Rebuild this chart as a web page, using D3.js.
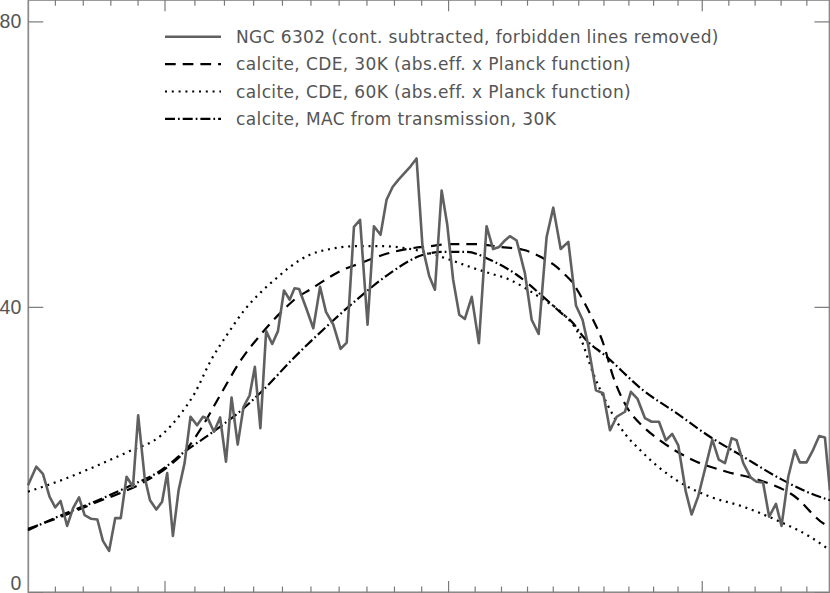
<!DOCTYPE html>
<html>
<head>
<meta charset="utf-8">
<title>NGC 6302 calcite</title>
<script src="https://cdn.jsdelivr.net/npm/d3@7"></script>
<style>
    html, body { margin: 0; padding: 0; background: #ffffff; }
    svg { display: block; }
    .frame { fill: none; stroke: #8a8a8a; stroke-width: 1.7; }
    .tick line { stroke: #7a7a7a; stroke-width: 1.2; }
    .tick text { font-family: 'Liberation Sans', sans-serif; font-size: 19.5px; fill: #555555; }
    .series { fill: none; stroke-linejoin: round; }
    .series-ngc { stroke: #606060; stroke-width: 2.6; }
    .series-cde30 { stroke: #000000; stroke-width: 2.2; stroke-dasharray: 10.7 7; }
    .series-cde60 { stroke: #000000; stroke-width: 2.2; stroke-dasharray: 2 4.8; }
    .series-mac30 { stroke: #000000; stroke-width: 2.2; stroke-dasharray: 10 3 1.7 3; }
    .legend-text { font-family: 'DejaVu Sans', sans-serif; font-size: 17px; letter-spacing: 0.38px; fill: #555555; }
</style>
</head>
<body>
<div id="chart"></div>
<script>
'use strict';

/** @brief Axis ranges: wavelength (micron, log axis) and flux. */
const X_DOMAIN = [75.6, 105.45];
const Y_DOMAIN = [0, 83];

/** @brief Tick values (no x labels are visible in the crop). */
const X_MAJOR_TICKS = [80, 90, 100];
const X_MINOR_TICKS = [76.44, 77.33, 78.22, 79.11,
    81, 82, 83, 84, 85, 86, 87, 88, 89,
    91, 92, 93, 94, 95, 96, 97, 98, 99,
    101.11, 102.22, 103.33, 104.44];
const Y_TICKS = [0, 40, 80];

/** @brief NGC 6302 spectrum, [wavelength, flux]. */
const NGC_6302 = [
    [75.59, 15.0], [75.85, 17.6], [76.06, 16.6], [76.27, 13.4], [76.45, 11.9], [76.62, 12.8],
    [76.83, 9.3], [77.02, 11.8], [77.21, 13.3], [77.39, 10.8], [77.60, 10.3], [77.80, 10.2],
    [77.98, 7.2], [78.18, 5.8], [78.38, 10.4], [78.56, 10.4], [78.75, 16.2], [78.96, 14.8],
    [79.13, 24.8], [79.34, 16.2], [79.52, 12.9], [79.73, 11.6], [79.92, 12.7], [80.09, 16.7],
    [80.28, 7.9], [80.47, 14.3], [80.67, 18.1], [80.87, 24.6], [81.09, 23.4], [81.29, 24.6],
    [81.46, 24.3], [81.66, 22.5], [81.87, 24.5], [82.07, 18.3], [82.26, 27.3], [82.47, 20.7],
    [82.67, 26.0], [82.88, 27.6], [83.06, 31.6], [83.25, 23.0], [83.45, 36.6], [83.66, 34.8],
    [83.86, 36.6], [84.07, 42.3], [84.27, 41.0], [84.44, 42.6], [84.60, 42.5], [84.87, 39.6],
    [85.10, 37.0], [85.34, 42.8], [85.55, 39.3], [85.81, 37.5], [86.07, 34.1], [86.29, 35.0],
    [86.55, 51.2], [86.77, 52.2], [87.04, 37.5], [87.27, 51.3], [87.51, 50.1], [87.73, 55.0],
    [87.95, 56.8], [88.16, 57.8], [88.40, 58.8], [88.61, 59.7], [88.83, 60.8], [89.05, 48.4],
    [89.30, 44.3], [89.51, 42.4], [89.76, 56.3], [89.97, 51.5], [90.19, 43.8], [90.42, 38.9],
    [90.63, 38.3], [90.89, 41.4], [91.16, 34.9], [91.45, 51.3], [91.70, 48.1], [91.93, 48.4],
    [92.15, 49.3], [92.34, 49.9], [92.60, 49.3], [92.92, 44.7], [93.18, 38.2], [93.45, 36.2],
    [93.76, 49.8], [94.02, 53.9], [94.31, 48.1], [94.61, 49.1], [94.91, 40.2], [95.17, 38.2],
    [95.39, 34.7], [95.70, 28.3], [95.99, 27.9], [96.26, 22.7], [96.53, 24.6], [96.86, 25.3],
    [97.10, 28.1], [97.37, 27.1], [97.67, 24.4], [97.94, 23.9], [98.24, 23.9], [98.52, 21.3],
    [98.78, 22.2], [99.03, 20.6], [99.34, 14.1], [99.58, 10.9], [99.85, 13.4], [100.16, 17.6],
    [100.44, 21.4], [100.71, 18.6], [100.97, 18.1], [101.25, 21.6], [101.46, 21.3], [101.74, 18.1],
    [102.05, 16.1], [102.30, 15.5], [102.58, 15.4], [102.84, 10.6], [103.13, 12.4], [103.37, 9.3],
    [103.66, 16.2], [103.94, 19.9], [104.16, 18.2], [104.45, 18.2], [104.74, 20.0], [105.00, 21.9],
    [105.25, 21.7], [105.47, 14.3]
];

/** @brief Calcite, CDE, 30K model. */
const CDE_30K = [
    [75.59, 8.9], [76.64, 10.6], [77.71, 12.5], [79.34, 15.5], [80.12, 17.6], [80.67, 19.7],
    [81.23, 23.0], [81.91, 27.9], [82.59, 32.6], [83.28, 36.2], [83.98, 39.3], [84.56, 41.4],
    [84.98, 42.4], [85.45, 43.6], [86.05, 45.0], [86.77, 46.1], [87.61, 47.3], [88.46, 48.1],
    [89.32, 48.5], [90.07, 48.8], [91.07, 48.8], [91.96, 48.4], [92.85, 48.0], [93.63, 46.8],
    [94.15, 45.6], [94.48, 44.5], [94.80, 43.3], [95.07, 41.7], [95.46, 39.1], [95.99, 34.9],
    [96.39, 30.2], [96.93, 26.0], [97.60, 23.2], [98.28, 21.3], [99.65, 18.5], [101.04, 16.9],
    [102.44, 15.7], [103.87, 13.6], [105.32, 9.4], [105.47, 9.2]
];

/** @brief Calcite, CDE, 60K model. */
const CDE_60K = [
    [75.59, 14.1], [76.64, 15.7], [77.71, 17.6], [78.80, 19.7], [79.89, 22.0], [80.56, 25.1],
    [81.01, 27.9], [81.57, 32.6], [82.14, 36.3], [82.71, 39.6], [83.28, 42.1], [83.86, 44.2],
    [84.28, 45.6], [84.98, 47.3], [85.69, 48.1], [86.65, 48.5], [87.61, 48.5], [88.46, 48.2],
    [89.32, 47.5], [90.07, 46.6], [90.82, 45.6], [91.58, 44.7], [92.34, 43.8], [92.85, 42.8],
    [93.63, 41.0], [94.28, 39.4], [95.07, 35.8], [95.59, 30.7], [96.13, 26.5], [96.66, 23.2],
    [97.60, 19.5], [98.96, 15.7], [100.34, 13.4], [101.74, 12.0], [103.16, 10.1], [104.59, 7.8],
    [105.47, 5.9]
];

/** @brief Calcite, MAC from transmission, 30K model. */
const MAC_30K = [
    [75.59, 8.7], [76.64, 10.8], [77.71, 12.7], [78.80, 14.8], [79.89, 17.1], [80.67, 19.7],
    [81.57, 22.3], [82.59, 25.5], [83.51, 29.0], [84.28, 32.3], [85.45, 36.8], [86.65, 41.0],
    [87.85, 44.7], [89.08, 47.3], [89.82, 47.7], [90.70, 47.7], [91.58, 46.6], [92.60, 44.5],
    [93.63, 41.4], [94.28, 39.3], [94.80, 37.7], [95.20, 35.8], [96.13, 33.0], [97.60, 28.3],
    [98.96, 25.1], [100.34, 21.8], [101.74, 19.0], [103.16, 16.2], [104.59, 13.9], [105.47, 12.9]
];

/** @brief Legend labels, in drawing order. */
const LEGEND_LABELS = [
    'NGC 6302 (cont. subtracted, forbidden lines removed)',
    'calcite, CDE, 30K (abs.eff. x Planck function)',
    'calcite, CDE, 60K (abs.eff. x Planck function)',
    'calcite, MAC from transmission, 30K'
];

(function (global) {
    'use strict';

    /**
     * @brief Layout configuration (pixels).
     * @type {Object}
     */
    const CONFIG = {
        width: 830,
        height: 593,
        plotLeft: 28.3,
        plotRight: 829.5,
        plotTop: 0,
        plotBottom: 592.3,
        minorTickX: 5.7,
        majorTickX: 11.3,
        tickY: 15,
        tickPadding: 7,
        labelBottomGap: 3,
        legendLineX0: 165,
        legendLineX1: 221,
        legendTextX: 236,
        legendY0: 36.7,
        legendStep: 27.4
    };

    /** @brief Series in legend order, with their css class. */
    const SERIES = [
        { data: NGC_6302, cls: 'series-ngc' },
        { data: CDE_30K, cls: 'series-cde30' },
        { data: CDE_60K, cls: 'series-cde60' },
        { data: MAC_30K, cls: 'series-mac30' }
    ];

    /**
     * @brief Hide the axis domain path; the frame is drawn as one rect.
     * @param {Object} g axis group selection
     */
    function stripDomain(g) {
        g.select('.domain').remove();
        g.attr('font-family', null).attr('font-size', null);
    }

    function render(containerSelector) {
        const cfg = CONFIG;

        const svg = d3.select(containerSelector)
            .append('svg')
            .attr('width', cfg.width)
            .attr('height', cfg.height);

        const x = d3.scaleLog()
            .domain(X_DOMAIN)
            .range([cfg.plotLeft, cfg.plotRight]);

        const y = d3.scaleLinear()
            .domain(Y_DOMAIN)
            .range([cfg.plotBottom, cfg.plotTop]);

        // frame
        svg.append('rect')
            .attr('class', 'frame')
            .attr('x', x(X_DOMAIN[0]))
            .attr('y', y(Y_DOMAIN[1]))
            .attr('width', x(X_DOMAIN[1]) - x(X_DOMAIN[0]))
            .attr('height', y(Y_DOMAIN[0]) - y(Y_DOMAIN[1]));

        // x ticks, bottom and top, pointing inward
        [[d3.axisBottom, y(Y_DOMAIN[0])], [d3.axisTop, y(Y_DOMAIN[1])]].forEach(function (p) {
            svg.append('g')
                .attr('transform', 'translate(0,' + p[1] + ')')
                .call(p[0](x).tickValues(X_MINOR_TICKS).tickSize(-cfg.minorTickX).tickFormat(''))
                .call(stripDomain);
            svg.append('g')
                .attr('transform', 'translate(0,' + p[1] + ')')
                .call(p[0](x).tickValues(X_MAJOR_TICKS).tickSize(-cfg.majorTickX).tickFormat(''))
                .call(stripDomain);
        });

        // y ticks, left with labels, right without
        const yLeft = svg.append('g')
            .attr('transform', 'translate(' + x(X_DOMAIN[0]) + ',0)')
            .call(d3.axisLeft(y).tickValues(Y_TICKS).tickSize(-cfg.tickY)
                .tickPadding(cfg.tickPadding).tickFormat(d3.format('d')))
            .call(stripDomain);

        // keep the lowest label inside the picture
        yLeft.selectAll('.tick text').each(function (d) {
            const base = y(d) + 6.4;
            const limit = cfg.height - cfg.labelBottomGap;
            if (base > limit) {
                d3.select(this).attr('y', limit - base);
            }
        });

        svg.append('g')
            .attr('transform', 'translate(' + x(X_DOMAIN[1]) + ',0)')
            .call(d3.axisRight(y).tickValues(Y_TICKS).tickSize(-cfg.tickY).tickFormat(''))
            .call(stripDomain);

        // series lines
        const line = d3.line()
            .x(function (d) { return x(d[0]); })
            .y(function (d) { return y(d[1]); });

        const smooth = d3.line()
            .x(function (d) { return x(d[0]); })
            .y(function (d) { return y(d[1]); })
            .curve(d3.curveMonotoneX);

        svg.append('g')
            .attr('class', 'series-group')
            .selectAll('path')
            .data(SERIES.slice().reverse())
            .enter()
            .append('path')
            .attr('class', function (s) { return 'series ' + s.cls; })
            .attr('d', function (s) { return s.cls === 'series-ngc' ? line(s.data) : smooth(s.data); });

        // legend
        const legend = svg.append('g').attr('class', 'legend');
        SERIES.forEach(function (s, i) {
            const ly = cfg.legendY0 + i * cfg.legendStep;
            legend.append('line')
                .attr('class', 'series ' + s.cls)
                .attr('x1', cfg.legendLineX0)
                .attr('x2', cfg.legendLineX1)
                .attr('y1', ly)
                .attr('y2', ly);
            legend.append('text')
                .attr('class', 'legend-text')
                .attr('x', cfg.legendTextX)
                .attr('y', ly)
                .attr('dy', '0.36em')
                .text(LEGEND_LABELS[i]);
        });
    }

    global.NgcChart = { render: render };
    render('#chart');
})(this);
</script>
</body>
</html>
